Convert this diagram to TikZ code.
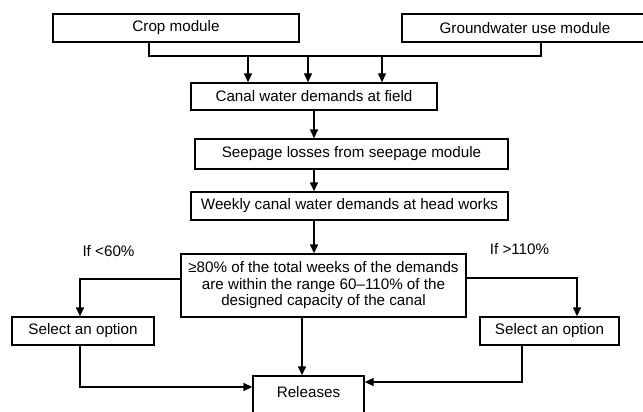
\documentclass[tikz,border=0pt]{standalone}
\usepackage{fontspec}
\setmainfont{Liberation Sans}
\usetikzlibrary{arrows.meta}

\tikzset{
	box/.style={draw, line width=1.4pt, inner sep=0pt, align=center,
		font=\fontsize{15.2}{16.5}\selectfont},
	arr/.style={line width=1.4pt, -{Triangle[length=9pt,width=8pt]}},
	line/.style={line width=1.4pt},
	cond/.style={font=\fontsize{15.2}{16.5}\selectfont}
}

\begin{document}
\begin{tikzpicture}[x=1pt, y=-1pt]
	\useasboundingbox (0,0) rectangle (643,412);
	\clip (0,0) rectangle (643,412);

	%modules
	\node[box, minimum width=246, minimum height=28] (crop) at (176, 28){Crop module};
	\node[box, minimum width=246, minimum height=28] (gw) at (525, 28){Groundwater use module};

	%demands
	\node[box, minimum width=246, minimum height=27] (canal) at (314, 96.5){Canal water demands at field};
	\node[box, minimum width=313, minimum height=30] (seep) at (351.5, 154){Seepage losses from seepage module};
	\node[box, minimum width=317, minimum height=28] (weekly) at (349.5, 206){Weekly canal water demands at head works};

	%check
	\node[box, minimum width=285, minimum height=63] (check) at (323.5, 285.5){≥80\% of the total weeks of the demands\\are within the range 60--110\% of the\\designed capacity of the canal};
	\node[cond] (low) at (108.5, 251){If <60\%};
	\node[cond] (high) at (519.5, 249){If >110\%};

	%options and releases
	\node[box, minimum width=142, minimum height=28] (optL) at (83, 331){Select an option};
	\node[box, minimum width=139, minimum height=28] (optR) at (549.5, 331){Select an option};
	\node[box, minimum width=111, minimum height=40, text height=10pt, text depth=7pt] (rel) at (308.5, 396){Releases};

	%collector line
	\coordinate (busL) at (149, 56);
	\coordinate (busR) at (541, 56);
	\draw[line] (crop.south -| busL) -- (busL) -- (busR) -- (gw.south -| busR);
	\foreach \x in {248, 308, 382}{
		\coordinate (t) at (\x, 56);
		\draw[arr] (t) -- (t |- canal.north);
	}

	\draw[arr] (canal.south) -- (seep.north -| canal.south);
	\draw[arr] (seep.south -| canal.south) -- (weekly.north -| canal.south);
	\draw[arr] (weekly.south -| canal.south) -- (check.north -| canal.south);

	%branches
	\draw[arr] ([yshift=6.5pt]check.west) -| ([xshift=-3pt]optL.north);
	\draw[arr] ([yshift=7.5pt]check.east) -| ([xshift=27.5pt]optR.north);
	\draw[arr] ([xshift=-6.5pt]rel.north |- check.south) -- ([xshift=-6.5pt]rel.north);
	\draw[arr] ([xshift=-3pt]optL.south) |- ([yshift=9pt]rel.west);
	\draw[arr] ([xshift=-27.5pt]optR.south) |- ([yshift=14pt]rel.east);
\end{tikzpicture}
\end{document}
